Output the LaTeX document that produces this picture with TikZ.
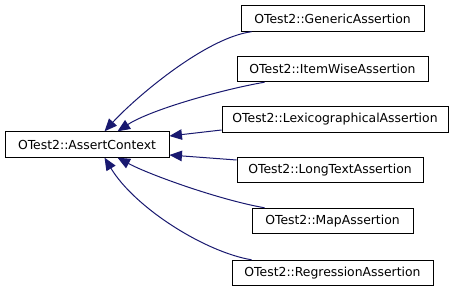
\documentclass[tikz,border=0pt]{standalone}
\usepackage{fontspec}
\setmainfont{DejaVu Sans}
\usetikzlibrary{arrows.meta,calc}
\definecolor{edgeblue}{HTML}{191970}
\begin{document}
\begin{tikzpicture}[x=1pt,y=-1pt,
  cls/.style={draw=black,line width=0.9pt,fill=white,minimum height=25.5pt,
    inner sep=0pt,font=\fontsize{12.4}{14}\selectfont},
  edge/.style={draw=edgeblue,line width=1pt,
    {Triangle[length=12.5pt,width=10.5pt,fill=edgeblue]}-}]
\useasboundingbox (0,0) rectangle (453,291);
\fill[white] (0,0) rectangle (453,291);
% class boxes
\node[cls,minimum width=164pt] (ctx)  at (87,144.5)  {OTest2::AssertContext};
\node[cls,minimum width=183pt] (gen)  at (332.5,18.5) {OTest2::GenericAssertion};
\node[cls,minimum width=191pt] (item) at (332.5,69)  {OTest2::ItemWiseAssertion};
\node[cls,minimum width=226pt] (lex)  at (335,119.5) {OTest2::LexicographicalAssertion};
\node[cls,minimum width=186pt] (long) at (330,170)   {OTest2::LongTextAssertion};
\node[cls,minimum width=161pt] (map)  at (332.5,221) {OTest2::MapAssertion};
\node[cls,minimum width=201pt] (reg)  at (332.5,273) {OTest2::RegressionAssertion};
% inheritance edges, arrow at the base class
\draw[edge] ($(ctx.north west)+(100,0)$) .. controls (135,98) and (205,38) .. ($(gen.south west)+(11,0)$);
\draw[edge] ($(ctx.north west)+(113,0)$) .. controls (150,110) and (220,90) .. ($(item.south west)+(28,0)$);
\draw[edge] ($(ctx.east)+(0,-8.5)$) -- ($(lex.west)+(0,10.5)$);
\draw[edge] ($(ctx.east)+(0,10.5)$) -- ($(long.west)+(0,-10)$);
\draw[edge] ($(ctx.south west)+(113,0)$) .. controls (150,175) and (220,200) .. ($(map.north west)+(13,0)$);
\draw[edge] ($(ctx.south west)+(100,0)$) .. controls (135,208) and (205,252) .. ($(reg.north west)+(20,0)$);
\end{tikzpicture}
\end{document}
